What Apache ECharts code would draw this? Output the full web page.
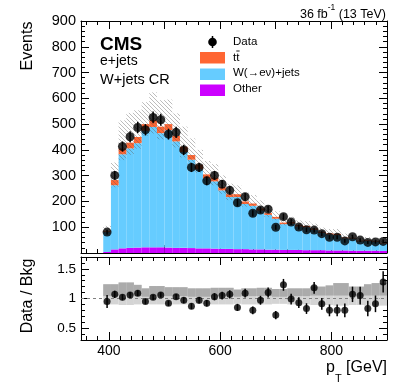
<!DOCTYPE html>
<html><head><meta charset="utf-8">
<script src="https://cdn.jsdelivr.net/npm/echarts@6/dist/echarts.min.js"></script>
<style>html,body{margin:0;padding:0;background:#fff}#c{width:411px;height:387px}</style>
</head><body><div id="c"></div>
<script>
// ---------- data ----------
const binEdges = [390,403.8,417.6,431.4,445.1,458.9,472.7,486.5,500.3,514.1,527.8,541.6,555.4,569.2,583,596.8,610.5,624.3,638.1,651.9,665.7,679.5,693.2,707,720.8,734.6,748.4,762.2,775.9,789.7,803.5,817.3,831.1,844.9,858.6,872.4,886.2,900];
const dataCounts = [81,301,413,451,487,478,526,517,461,468,400,332,332,280,301,267,243,195,218,154,167,170,100,141,120,101,90,89,75,61,61,47,63,50,41,43,45];
const dataErr = [9,17,20,21,22,22,23,23,21,22,20,18,18,17,17,16,16,14,15,12,13,13,10,12,11,10,9,9,9,8,8,7,8,7,6,7,7];
const other = [4,14,18,20,21,22,22,22,21,20,20,19,18,18,17,16,16,15,15,14,14,13,13,12,12,12,11,11,11,10,10,10,9,9,9,9,8];
const wjets = [78,249,365,386,405,452,467,443,455,413,372,343,307,272,261,227,201,202,175,169,151,135,120,100,102,91,89,79,67,62,60,47,47,36,38,35,28];
const ttbar = [3,20,22,22,24,26,26,25,24,22,20,18,17,15,14,12,11,11,10,9,8,7,7,6,6,5,5,5,4,4,4,3,3,3,3,3,2];
const ratio = [0.95,1.07,1.02,1.06,1.09,0.95,1.02,1.06,0.92,1.03,0.97,0.87,0.97,0.92,1.03,1.05,1.07,0.85,1.09,0.80,0.97,1.10,0.72,1.23,0.99,0.93,0.83,1.18,0.91,0.80,0.80,0.80,1.07,1.05,0.83,0.91,1.28];
const ratioErr = [0.11,0.06,0.05,0.05,0.05,0.045,0.045,0.045,0.045,0.045,0.05,0.05,0.055,0.055,0.06,0.065,0.07,0.06,0.075,0.065,0.075,0.085,0.07,0.1,0.09,0.09,0.09,0.1,0.1,0.1,0.1,0.115,0.13,0.15,0.13,0.14,0.18];
const bandHi = [1.24,1.24,1.27,1.27,1.23,1.17,1.21,1.21,1.19,1.19,1.19,1.17,1.17,1.17,1.18,1.18,1.18,1.15,1.17,1.17,1.18,1.18,1.16,1.16,1.17,1.17,1.17,1.2,1.2,1.22,1.26,1.26,1.2,1.2,1.24,1.26,1.26];
const bandMid = [1.04,1.04,1.05,1.05,1.04,1.03,1.04,1.04,1.04,1.04,1.04,1.03,1.03,1.03,1.04,1.04,1.04,1.03,1.04,1.04,1.04,1.04,1.03,1.03,1.04,1.04,1.04,1.05,1.05,1.05,1.05,1.05,1.05,1.05,1.05,1.05,1.05];
const bandLo = [0.9,0.9,0.89,0.89,0.9,0.91,0.9,0.9,0.9,0.9,0.9,0.91,0.91,0.91,0.9,0.9,0.9,0.91,0.9,0.9,0.9,0.9,0.91,0.91,0.9,0.9,0.9,0.89,0.89,0.89,0.88,0.88,0.89,0.89,0.88,0.88,0.88];
const xLabels = [400, 600, 800];
const ratioLabels = [0.5, 1, 1.5];

// ---------- helpers ----------
const FONT = '"Liberation Sans", Arial, Helvetica, sans-serif';
const C_TT = '#ff6633', C_W = '#66ccff', C_OT = '#cc00ff';
const nb = dataCounts.length;
const idx = [...Array(nb).keys()];
const total = idx.map(i => other[i] + wjets[i] + ttbar[i]);
const centers = idx.map(i => (binEdges[i] + binEdges[i+1]) / 2);

const shortTicks = []; for (let v = 360; v <= 900; v += 20) shortTicks.push(v);
const longTicksTop = [400,500,600,700,800,900];

function hatchCanvas(){
  const c = document.createElement('canvas'); c.width = 4; c.height = 4;
  const g = c.getContext('2d'); g.strokeStyle = 'rgba(95,95,95,0.6)'; g.lineWidth = 0.7;
  g.beginPath(); g.moveTo(0,0); g.lineTo(4,4); g.moveTo(-1,3); g.lineTo(1,5); g.moveTo(3,-1); g.lineTo(5,1); g.stroke();
  return c;
}
const HATCH = {type:'pattern', image: hatchCanvas(), repeat:'repeat'};

function rectSeries(name, xi, yi, data, fill, z){
  return {name, type:'custom', coordinateSystem:'cartesian2d', xAxisIndex:xi, yAxisIndex:yi, z, silent:true,
    data, encode:{x:[0,1], y:[2,3]},
    renderItem(params, api){
      const p0 = api.coord([api.value(0), api.value(2)]);
      const p1 = api.coord([api.value(1), api.value(3)]);
      return {type:'rect', shape:{x:p0[0], y:p1[1], width:p1[0]-p0[0], height:p0[1]-p1[1]}, style:{fill, stroke:null}};
    }};
}
function errSeries(xi, yi, vals, errs, lw, z){
  return {type:'custom', coordinateSystem:'cartesian2d', xAxisIndex:xi, yAxisIndex:yi, z, silent:true,
    data: idx.map(i => [centers[i], vals[i] - errs[i], vals[i] + errs[i]]), encode:{x:0, y:[1,2]},
    renderItem(params, api){
      const a = api.coord([api.value(0), api.value(1)]);
      const b = api.coord([api.value(0), api.value(2)]);
      return {type:'line', shape:{x1:a[0], y1:a[1], x2:b[0], y2:b[1]}, style:{stroke:'#000', lineWidth:lw}};
    }};
}
function xAx(grid, pos, ticks, len, labels, line){
  return {type:'value', gridIndex:grid, position:pos, min:350, max:900,
    axisLine:{show:line, onZero:false, lineStyle:{color:'#000', width:1}},
    axisTick:{show:true, inside:true, length:len, customValues:ticks, lineStyle:{color:'#000', width:1}},
    axisLabel: labels ? {show:true, customValues:labels, fontSize:14, color:'#000', margin:4, fontFamily:FONT} : {show:false},
    splitLine:{show:false}};
}
function yRatio(pos, ticksCustom, len, labels, line){
  const ax = {type:'value', gridIndex:1, position:pos, min:0.3, max:1.7, interval:0.1,
    axisLine:{show:line, onZero:false, lineStyle:{color:'#000'}},
    axisTick:{show:true, inside:true, length:len, lineStyle:{color:'#000'}},
    axisLabel: labels ? {show:true, customValues:labels, fontSize:13.5, color:'#000', margin:5, fontFamily:FONT,
      formatter: v => (Math.abs(v-1) < 1e-6 ? '1' : String(Math.round(v*10)/10))} : {show:false},
    splitLine:{show:false}};
  if (ticksCustom) ax.axisTick.customValues = ticksCustom;
  return ax;
}
function yTop(pos, labels){
  return {type:'value', gridIndex:0, position:pos, min:0, max:900, interval:100,
    axisLine:{show:true, onZero:false, lineStyle:{color:'#000'}},
    axisTick:{show:true, inside:true, length:8, lineStyle:{color:'#000'}},
    minorTick:{show:true, splitNumber:5, length:4, lineStyle:{color:'#000'}},
    axisLabel: labels ? {show:true, fontSize:14.5, color:'#000', margin:5, fontFamily:FONT, formatter: v => v === 0 ? '' : String(v)} : {show:false},
    splitLine:{show:false}, minorSplitLine:{show:false}};
}

const bins = (lo, hi) => idx.map(i => [binEdges[i], binEdges[i+1], lo[i], hi[i]]);
const zero = idx.map(() => 0);
const s1 = idx.map(i => other[i]);
const s2 = idx.map(i => other[i] + wjets[i]);
const hLo = idx.map(i => total[i] * bandLo[i]);
const hHi = idx.map(i => total[i] * bandHi[i]);

const option = {
  animation:false,
  grid:[{left:81, right:24, top:21, height:232}, {left:81, right:24, top:257, height:83}],
  xAxis:[
    xAx(0,'bottom',shortTicks,4,null,true), xAx(0,'bottom',longTicksTop,8,null,false),
    xAx(0,'top',shortTicks,4,null,true), xAx(0,'top',longTicksTop,8,null,false),
    xAx(1,'bottom',shortTicks,4,xLabels,true), xAx(1,'bottom',xLabels,8,null,false),
    xAx(1,'top',shortTicks,4,null,true), xAx(1,'top',xLabels,8,null,false)
  ],
  yAxis:[
    yTop('left',true), yTop('right',false),
    yRatio('left',null,4,ratioLabels,true), yRatio('left',ratioLabels,8,null,false),
    yRatio('right',null,4,null,true), yRatio('right',ratioLabels,8,null,false)
  ],
  series:[
    rectSeries('Other',0,0,bins(zero,s1),C_OT,1),
    rectSeries('W',0,0,bins(s1,s2),C_W,1),
    rectSeries('tt',0,0,bins(s2,total),C_TT,1),
    rectSeries('unc',0,0,bins(hLo,hHi),HATCH,2),
    errSeries(0,0,dataCounts,dataErr,1.5,3),
    {type:'scatter', xAxisIndex:0, yAxisIndex:0, z:4, silent:true, symbol:'circle', symbolSize:9,
      itemStyle:{color:'#000'}, data: idx.map(i => [centers[i], dataCounts[i]])},
    rectSeries('bandLight',4,2,bins(bandLo,bandHi),'#d4d4d4',1),
    rectSeries('bandDark',4,2,bins(bandMid,bandHi),'#ababab',1),
    errSeries(4,2,ratio,ratioErr,1.5,3),
    {type:'scatter', xAxisIndex:4, yAxisIndex:2, z:4, silent:true, symbol:'circle', symbolSize:7,
      itemStyle:{color:'#000'}, data: idx.map(i => [centers[i], ratio[i]]),
      markLine:{silent:true, symbol:'none', label:{show:false}, data:[{yAxis:1}],
        lineStyle:{color:'#808080', width:1.2, type:[3,3]}, z:2}}
  ],
  graphic:[
    {type:'text', right:25, top:3, style:{text:'{n|36 fb}{s|-1}{n| (13 TeV)}', fill:'#000',
      rich:{n:{fontSize:12.5, fontFamily:FONT, lineHeight:18, verticalAlign:'bottom'}, s:{fontSize:8.5, fontFamily:FONT, lineHeight:10, verticalAlign:'top'}}}},
    {type:'text', left:100, top:35, style:{text:'CMS', font:'bold 19px '+FONT, fill:'#000'}},
    {type:'text', left:100, top:54, style:{text:'e+jets', font:'14px '+FONT, fill:'#000'}},
    {type:'text', left:100, top:72, style:{text:'W+jets CR', font:'14.5px '+FONT, fill:'#000'}},
    // legend
    {type:'line', shape:{x1:212.5, y1:36, x2:212.5, y2:48}, style:{stroke:'#000', lineWidth:1.5}},
    {type:'circle', shape:{cx:212.5, cy:42, r:4.3}, style:{fill:'#000'}},
    {type:'text', x:233, y:42, style:{text:'Data', font:'11.5px '+FONT, fill:'#000', verticalAlign:'middle'}},
    {type:'rect', shape:{x:200, y:52, width:25, height:11.5}, style:{fill:C_TT}},
    {type:'text', x:233, y:57.5, style:{text:'tt', font:'11.5px '+FONT, fill:'#000', verticalAlign:'middle'}},
    {type:'line', shape:{x1:236.3, y1:51, x2:239.6, y2:51}, style:{stroke:'#000', lineWidth:0.9}},
    {type:'rect', shape:{x:200, y:68.5, width:25, height:11.5}, style:{fill:C_W}},
    {type:'text', x:233, y:72.5, style:{text:'W(\u2192e\u03bd)+jets', font:'11.5px '+FONT, fill:'#000', verticalAlign:'middle'}},
    {type:'rect', shape:{x:200, y:84.5, width:25, height:11.5}, style:{fill:C_OT}},
    {type:'text', x:233, y:89, style:{text:'Other', font:'11.5px '+FONT, fill:'#000', verticalAlign:'middle'}},
    // axis titles
    {type:'text', x:28, y:46, rotation:Math.PI/2, style:{text:'Events', font:'16px '+FONT, fill:'#000', align:'center', verticalAlign:'middle'}},
    {type:'text', x:28, y:296, rotation:Math.PI/2, style:{text:'Data / Bkg', font:'16px '+FONT, fill:'#000', align:'center', verticalAlign:'middle'}},
    {type:'text', right:24, top:360, style:{text:'{p|p}{t|T}{p| [GeV]}', fill:'#000',
      rich:{p:{fontSize:16, fontFamily:FONT, lineHeight:24, verticalAlign:'top'}, t:{fontSize:11, fontFamily:FONT, lineHeight:12, verticalAlign:'bottom'}}}}
  ]
};
const chart = echarts.init(document.getElementById('c'), null, {renderer:'canvas'});
chart.setOption(option);
</script>
</body></html>
